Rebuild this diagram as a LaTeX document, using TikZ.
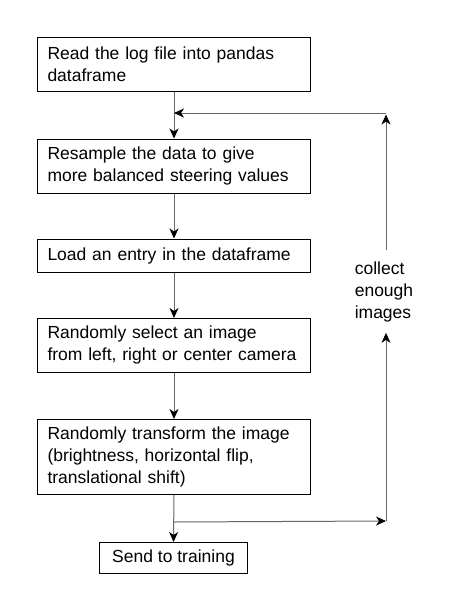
\documentclass[tikz,border=0pt]{standalone}
\usepackage{fontspec}
\setmainfont{Liberation Sans}
\usetikzlibrary{arrows.meta}
\hyphenpenalty=10000
\begin{document}
\begin{tikzpicture}[x=1pt,y=-1pt,
    stepbox/.style={draw,line width=1pt,anchor=north west,align=left,
      text width=253pt,inner xsep=10pt,inner ysep=0pt,
      font=\fontsize{17.5}{22}\selectfont},
    sendbox/.style={draw,line width=1pt,anchor=north west,inner sep=0pt,
      minimum width=148pt,minimum height=31pt,font=\fontsize{17.5}{22}\selectfont},
    conn/.style={draw=black!60,line width=1pt,
      -{Stealth[length=10pt,width=9pt,inset=3pt,black]}}]
  \useasboundingbox (0,0) rectangle (459,611);
  % steps
  \node[stepbox,minimum height=54pt] (read) at (37,37)
    {Read the log file into pandas\\dataframe};
  \node[stepbox,minimum height=54pt] (resample) at (37,138.5)
    {Resample the data to give\\more balanced steering values};
  \node[stepbox,minimum height=33pt] (load) at (37,238.5)
    {Load an entry in the dataframe};
  \node[stepbox,minimum height=53.5pt] (select) at (37,318)
    {Randomly select an image\\from left, right or center camera};
  \node[stepbox,minimum height=75pt] (transform) at (37,419)
    {Randomly transform the image\\(brightness, horizontal flip,\\translational shift)};
  \node[sendbox] (send) at (99,542) {Send to training};
  \node[align=left,inner xsep=0pt,inner ysep=11pt,font=\fontsize{17.5}{22}\selectfont]
    (note) at (384,291.5) {collect\\enough\\images};
  % loop points
  \path (transform.south) ++(0,27) coordinate (split);
  \coordinate (turn) at (386,521);
  \coordinate (back) at (386,113);
  \coordinate (join) at (read.south |- back);
  % connectors
  \draw[conn] (read.south) -- (resample.north);
  \draw[conn] (resample.south) -- (load.north);
  \draw[conn] (load.south) -- (select.north);
  \draw[conn] (select.south) -- (transform.north);
  \draw[conn] (transform.south) -- (send.north);
  \draw[conn] (split) -- (turn);
  \draw[conn] (turn) -- (turn |- note.south);
  \draw[conn,shorten >=1.5pt] (turn |- note.north) -- (back);
  \draw[conn] (back) -- (join);
\end{tikzpicture}
\end{document}
